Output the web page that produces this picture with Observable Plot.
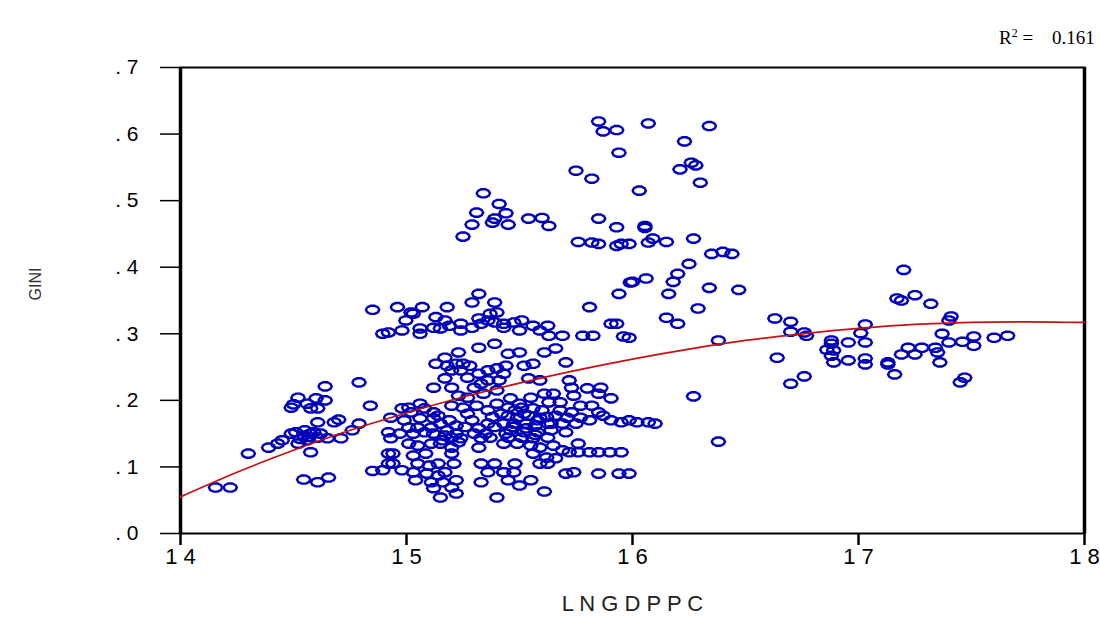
<!DOCTYPE html>
<html><head><meta charset="utf-8">
<script src="https://cdn.jsdelivr.net/npm/d3@7"></script>
<script src="https://cdn.jsdelivr.net/npm/@observablehq/plot@0.6"></script>
<style>
body{margin:0;background:#fff;width:1100px;height:618px;overflow:hidden;position:relative;font-family:"Liberation Sans",Arial,sans-serif}
#r2{position:absolute;left:999px;top:27px;font-family:"Liberation Serif","Times New Roman",serif;font-size:19px;color:#000;white-space:pre}
#r2 sup{font-size:12px;vertical-align:7px;line-height:0}
#r2 .v{margin-left:14px}
g[aria-label="y-axis tick label"] text{font-size:21px}
g[aria-label="x-axis tick label"] text{font-size:22px}
</style></head><body>
<div id="chart"></div>
<div id="r2">R<sup>2</sup> = <span class="v">0.161</span></div>
<script>
// Observations: [LNGDPPC, GINI]
const observations = [
[14.155,0.069],[14.22,0.069],[14.30,0.120],[14.39,0.129],[14.43,0.135],[14.45,0.140],[14.49,0.150],[14.51,0.152],
[14.545,0.147],[14.576,0.150],[14.607,0.144],[14.56,0.140],[14.52,0.135],[14.576,0.122],[14.65,0.143],[14.71,0.143],
[14.76,0.155],[14.79,0.165],[14.607,0.167],[14.68,0.167],[14.70,0.171],[14.49,0.189],[14.50,0.194],[14.52,0.204],
[14.56,0.195],[14.60,0.203],[14.607,0.188],[14.64,0.200],[14.576,0.188],[14.64,0.221],[14.79,0.227],[14.84,0.192],
[14.545,0.081],[14.607,0.077],[14.655,0.084],[14.85,0.094],[14.92,0.105],[14.92,0.120],[14.85,0.336],[14.895,0.300],
[14.92,0.302],[14.57,0.145],[14.59,0.152],[14.53,0.142],[14.62,0.150],[14.55,0.155],
[15.32,0.360],[15.29,0.347],[15.39,0.347],[14.96,0.340],[15.07,0.340],[15.18,0.340],[15.02,0.332],[15.03,0.330],
[14.997,0.320],[15.13,0.325],[15.17,0.320],[15.24,0.315],[15.32,0.323],[15.37,0.330],[15.40,0.332],[15.36,0.320],
[14.98,0.305],[15.06,0.308],[15.06,0.300],[15.12,0.309],[15.15,0.308],[15.19,0.312],[15.24,0.305],[15.29,0.309],
[15.33,0.315],[15.39,0.317],[15.43,0.309],[15.32,0.279],[15.39,0.285],[15.23,0.272],[15.17,0.264],[15.13,0.255],
[15.18,0.252],[15.22,0.255],[15.25,0.255],[15.28,0.252],[15.20,0.245],[15.24,0.245],[15.17,0.233],[15.12,0.219],
[15.20,0.219],[15.27,0.234],[15.32,0.240],[15.36,0.245],[15.40,0.248],[15.36,0.230],[15.33,0.225],[15.30,0.219],
[15.41,0.230],[15.40,0.215],[15.34,0.210],[15.27,0.204],[15.23,0.207],[15.20,0.192],[15.25,0.189],[15.31,0.192],
[15.06,0.195],[15.01,0.189],[14.98,0.188],[15.02,0.182],[15.08,0.188],[15.12,0.182],[14.93,0.174],[14.99,0.170],
[15.06,0.173],[15.12,0.173],[15.14,0.177],[15.15,0.165],[15.22,0.162],[15.11,0.159],[15.05,0.159],[15.01,0.159],
[14.92,0.152],[14.97,0.150],[15.03,0.150],[15.08,0.152],[15.12,0.150],[15.17,0.147],[15.20,0.144],[15.24,0.143],
[15.32,0.158],[15.33,0.143],[15.37,0.144],[14.93,0.143],[15.01,0.135],[15.05,0.132],[15.11,0.135],[15.15,0.135],
[15.20,0.129],[15.23,0.137],[15.32,0.129],[14.94,0.120],[15.03,0.117],[15.085,0.120],[15.20,0.120],[14.94,0.105],
[15.05,0.105],[15.10,0.102],[15.14,0.105],[15.21,0.105],[15.33,0.105],[15.39,0.105],[14.895,0.095],[14.98,0.095],
[15.03,0.092],[15.09,0.090],[15.14,0.087],[15.17,0.092],[15.36,0.092],[15.43,0.092],[15.04,0.080],[15.11,0.077],
[15.16,0.077],[15.22,0.080],[15.33,0.077],[15.12,0.068],[15.20,0.069],[15.22,0.060],[15.15,0.054],[15.40,0.054],
[15.36,0.185],[15.38,0.175],[15.36,0.165],[15.39,0.160],[15.35,0.150],[15.40,0.195],[15.29,0.170],[15.27,0.180],[15.30,0.150],
[15.18,0.155],[15.22,0.150],[15.16,0.140],[15.26,0.160],[15.19,0.170],
[15.99,0.377],[15.94,0.360],[15.81,0.340],[15.905,0.315],[15.93,0.315],[15.43,0.315],[15.475,0.317],[15.51,0.320],
[15.50,0.305],[15.56,0.312],[15.625,0.312],[15.59,0.305],[15.63,0.297],[15.69,0.297],[15.78,0.297],[15.825,0.297],
[15.96,0.296],[15.985,0.294],[15.45,0.270],[15.50,0.272],[15.61,0.272],[15.66,0.278],[15.705,0.257],[15.44,0.252],
[15.52,0.252],[15.56,0.255],[15.43,0.240],[15.54,0.233],[15.59,0.230],[15.72,0.230],[15.73,0.219],[15.80,0.218],
[15.86,0.219],[15.85,0.210],[15.905,0.203],[15.61,0.210],[15.65,0.210],[15.74,0.207],[15.46,0.203],[15.55,0.204],
[15.63,0.197],[15.68,0.197],[15.77,0.192],[15.82,0.192],[15.45,0.189],[15.51,0.189],[15.56,0.188],[15.73,0.182],
[15.85,0.182],[15.87,0.177],[15.45,0.177],[15.49,0.174],[15.54,0.177],[15.59,0.174],[15.66,0.177],[15.71,0.174],
[15.77,0.174],[15.81,0.170],[15.905,0.170],[15.95,0.167],[15.985,0.170],[16.02,0.167],[16.07,0.167],[16.10,0.165],
[15.43,0.165],[15.475,0.165],[15.53,0.165],[15.57,0.162],[15.625,0.165],[15.69,0.165],[15.75,0.165],[15.46,0.155],
[15.52,0.152],[15.58,0.152],[15.64,0.155],[15.705,0.152],[15.45,0.144],[15.51,0.144],[15.56,0.143],[15.625,0.144],
[15.43,0.135],[15.49,0.135],[15.55,0.132],[15.59,0.129],[15.65,0.132],[15.76,0.135],[15.56,0.120],[15.69,0.125],
[15.72,0.122],[15.76,0.122],[15.81,0.122],[15.85,0.122],[15.90,0.122],[15.95,0.122],[15.62,0.114],[15.66,0.113],
[15.48,0.105],[15.59,0.105],[15.625,0.105],[15.43,0.092],[15.475,0.092],[15.705,0.090],[15.74,0.092],[15.85,0.090],
[15.94,0.090],[15.985,0.090],[15.45,0.080],[15.55,0.080],[15.50,0.072],[15.61,0.063],
[15.48,0.185],[15.52,0.180],[15.58,0.170],[15.60,0.185],[15.47,0.160],[15.53,0.158],[15.57,0.148],[15.62,0.175],
[15.64,0.165],[15.50,0.195],[15.68,0.185],[15.42,0.180],[15.44,0.150],
[15.85,0.619],[15.87,0.604],[15.93,0.606],[16.07,0.616],[16.34,0.612],[16.23,0.589],[15.94,0.572],[16.26,0.557],
[16.28,0.553],[16.21,0.547],[16.30,0.527],[15.75,0.545],[15.82,0.533],[16.03,0.515],[15.54,0.473],[15.60,0.474],
[15.63,0.462],[15.85,0.473],[15.93,0.460],[16.055,0.459],[16.055,0.462],[15.76,0.438],[15.82,0.437],[15.85,0.435],
[15.93,0.432],[15.95,0.435],[15.985,0.435],[16.07,0.437],[16.09,0.443],[16.15,0.438],[16.27,0.443],[16.35,0.420],
[16.40,0.423],[16.44,0.420],[16.25,0.405],[16.20,0.390],[16.06,0.383],
[15.34,0.511],[15.41,0.495],[15.31,0.482],[15.44,0.481],[15.39,0.473],[15.38,0.467],[15.29,0.464],[15.45,0.464],
[15.25,0.446],[16.18,0.378],[16.00,0.378],[16.16,0.360],[16.34,0.369],[16.47,0.366],[16.29,0.338],[16.15,0.324],
[16.20,0.315],[16.38,0.290],[16.27,0.206],[16.38,0.138],
[16.63,0.323],[16.70,0.318],[16.70,0.303],[16.64,0.264],[16.70,0.225],[16.76,0.302],[16.77,0.297],[16.76,0.236],
[17.20,0.396],[17.17,0.353],[17.19,0.350],[17.25,0.358],[17.32,0.345],[17.41,0.326],[17.40,0.320],[17.03,0.314],
[17.01,0.301],[16.88,0.290],[16.88,0.285],[16.955,0.287],[17.03,0.287],[16.86,0.276],[16.89,0.275],[16.88,0.267],
[16.89,0.257],[16.955,0.260],[17.03,0.263],[17.03,0.254],[17.13,0.257],[17.13,0.254],[17.16,0.239],[17.22,0.279],
[17.28,0.279],[17.34,0.279],[17.35,0.272],[17.25,0.269],[17.19,0.269],[17.37,0.300],[17.40,0.287],[17.46,0.288],
[17.51,0.296],[17.51,0.282],[17.60,0.294],[17.66,0.297],[17.36,0.257],[17.47,0.234],[17.45,0.227]
];
// Fitted curve
const fitX = [14.0,14.25,14.5,14.75,15.0,15.25,15.5,15.75,16.0,16.25,16.5,16.75,17.0,17.25,17.5,17.75,18.0];
const fitY = [0.055,0.092,0.125,0.155,0.181,0.205,0.226,0.245,0.262,0.277,0.290,0.300,0.308,0.314,0.317,0.318,0.317];
const xTicks = [14,15,16,17,18];
const yTicks = [0,0.1,0.2,0.3,0.4,0.5,0.6,0.7];

const dots = observations.map(([x,y]) => ({x,y}));
const fit = fitX.map((x,i) => ({x, y: fitY[i]}));

const ellipse = {draw(ctx){
  const rx = 6.6, ry = 4.3, n = 10;
  for (let i = 0; i < n; i++) {
    const a = 2*Math.PI*i/n, px = rx*Math.cos(a), py = ry*Math.sin(a);
    if (i) ctx.lineTo(px, py); else ctx.moveTo(px, py);
  }
  ctx.closePath();
}};

const chart = Plot.plot({
  width: 1100, height: 618,
  marginLeft: 180, marginRight: 16, marginTop: 67, marginBottom: 85,
  style: {fontFamily: "'Liberation Sans', Arial, sans-serif", fontSize: "20px", color: "#000", background: "#fff", overflow: "visible"},
  x: {domain: [14, 18]},
  y: {domain: [0, 0.7]},
  marks: [
    Plot.axisY({ticks: yTicks, tickFormat: d => ". " + Math.round(d*10), tickSize: 20, tickPadding: 22, fontSize: 21, label: null, strokeWidth: 1.5}),
    Plot.axisX({ticks: xTicks, tickFormat: d => String(d).split("").join(" "), tickSize: 12, tickPadding: 3, fontSize: 22, label: null, strokeWidth: 2.5}),
    Plot.frame({stroke: "#000", strokeWidth: 2}),
    Plot.ruleX([14, 18], {stroke: "#000", strokeWidth: 3.5}),
    Plot.dot(dots, {x: "x", y: "y", symbol: ellipse, stroke: "#0000b8", strokeWidth: 2.4, fill: "none"}),
    Plot.line(fit, {x: "x", y: "y", stroke: "#c41212", strokeWidth: 1.7, curve: "catmull-rom"}),
    Plot.text(["GINI"], {frameAnchor: "left", dx: -145, rotate: -90, fontSize: 16, fill: "#333"}),
    Plot.text(["L N G D P P C"], {frameAnchor: "bottom", dy: 77, fontSize: 22, fill: "#222"})
  ]
});
document.getElementById("chart").appendChild(chart);
</script></body></html>
